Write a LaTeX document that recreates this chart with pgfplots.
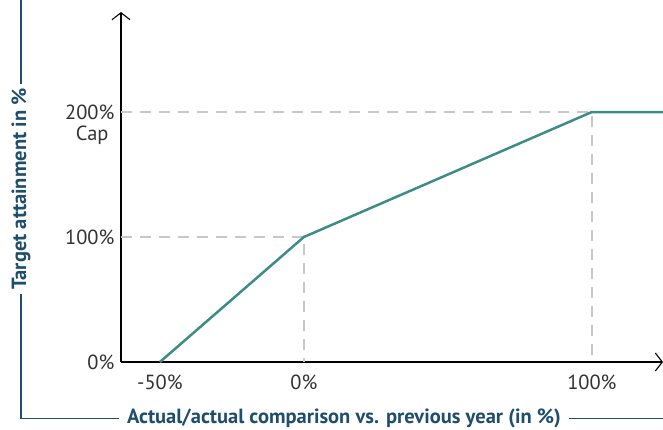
\documentclass[border=0pt]{standalone}
\usepackage{pgfplots}
\pgfplotsset{compat=1.18}
\usepackage{fontspec}
\setmainfont{PT Sans}
\usetikzlibrary{arrows.meta}
\definecolor{teal1}{RGB}{62,140,136}
\definecolor{dgray}{RGB}{200,200,200}
\definecolor{lblue}{RGB}{30,78,108}
\definecolor{tgray}{RGB}{50,50,50}
\begin{document}
\begin{tikzpicture}[x=1bp,y=1bp]
\path[use as bounding box] (0,0) rectangle (663,-429);
\begin{axis}[
  at={(121bp,-362bp)}, anchor=south west,
  scale only axis, width=542bp, height=350bp,
  xmin=-63.5, xmax=124.7, ymin=0, ymax=280,
  axis lines=left,
  axis line style={line width=1.1bp, -{Straight Barb[length=7bp,width=18bp,line width=1.1bp]}},
  xtick={-50,0,100}, xticklabels={-50\%,0\%,100\%},
  ytick={0,100,200}, yticklabels={0\%,100\%,200\%},
  tick style={draw=none},
  ticklabel style={font=\fontsize{20.5}{24}\selectfont, text=tgray},
  xticklabel style={yshift=-7bp},
  yticklabel style={xshift=-1bp},
  /pgf/number format/assume math mode=true,
  clip=false,
]
\addplot[dgray, line width=2.6bp, dash pattern=on 11bp off 8bp] coordinates {(-63.5,100) (0,100) (0,0)};
\addplot[dgray, line width=2.6bp, dash pattern=on 11bp off 8bp] coordinates {(-63.5,200) (100,200) (100,0)};
\addplot[teal1, line width=2.5bp] coordinates {(-50,0) (0,100) (100,200) (124.7,200)};
\node[anchor=east, font=\fontsize{20.5}{24}\selectfont, text=tgray] at ([xshift=-9bp,yshift=-23bp]axis cs:-63.5,200) {Cap};
\end{axis}
\draw[lblue, line width=1.3bp] (21,0) -- (21,-418.5) -- (663,-418.5);
\node[fill=white, inner sep=4bp, rotate=90, text=lblue, font=\fontsize{20.6}{22}\selectfont\bfseries] at (21,-189) {Target attainment in \%};
\node[fill=white, inner sep=0bp, minimum height=6bp, inner xsep=8bp, text=lblue, font=\fontsize{20.6}{22}\selectfont\bfseries] at (344,-418.5) {Actual/actual comparison vs. previous year (in \%)};
\end{tikzpicture}
\end{document}
